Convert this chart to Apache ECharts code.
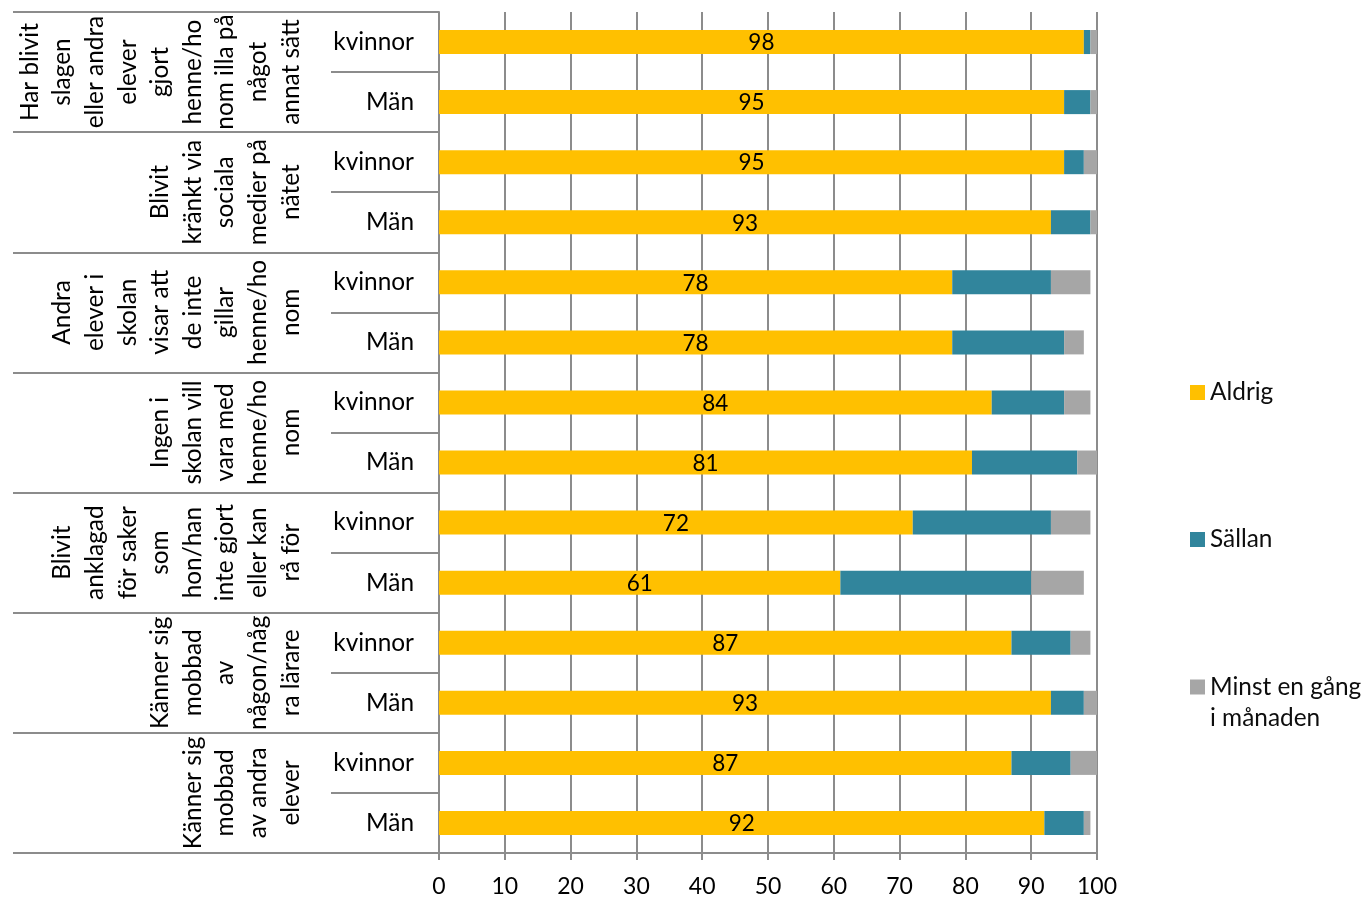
<!DOCTYPE html>
<html>
<head>
<meta charset="utf-8">
<script src="https://cdn.jsdelivr.net/npm/echarts@6/dist/echarts.min.js"></script>
<style>
html,body{margin:0;padding:0;background:#fff;}
#chart{width:1367px;height:897px;}
</style>
</head>
<body>
<div id="chart"></div>
<script>
const rowLabels = ['kvinnor','Män','kvinnor','Män','kvinnor','Män','kvinnor','Män','kvinnor','Män','kvinnor','Män','kvinnor','Män'];
const groupLabels = [
  'Har blivit\nslagen\neller andra\nelever\ngjort\nhenne/ho\nnom illa på\nnågot\nannat sätt',
  'Blivit\nkränkt via\nsociala\nmedier på\nnätet',
  'Andra\nelever i\nskolan\nvisar att\nde inte\ngillar\nhenne/ho\nnom',
  'Ingen i\nskolan vill\nvara med\nhenne/ho\nnom',
  'Blivit\nanklagad\nför saker\nsom\nhon/han\ninte gjort\neller kan\nrå för',
  'Känner sig\nmobbad\nav\nnågon/någ\nra lärare',
  'Känner sig\nmobbad\nav andra\nelever'
];
const seriesNames = ['Aldrig', 'Sällan', 'Minst en gång i månaden'];
const aldrig = [98,95,95,93,78,78,84,81,72,61,87,93,87,92];
const sallan = [1,4,3,6,15,17,11,16,21,29,9,5,9,6];
const minst  = [1,1,2,1,6,3,4,3,6,8,3,2,4,1];
const xTicks = [0,10,20,30,40,50,60,70,80,90,100];

const FONT = 'Lato';
const FS = 24.4;
const GRAY = '#8c8c8c';
const chart = echarts.init(document.getElementById('chart'), null, {renderer:'canvas'});
chart.setOption({
  animation: false,
  backgroundColor: '#fff',
  textStyle: {fontFamily: FONT, color: '#000'},
  grid: {left: 439, right: 270, top: 12, bottom: 44, containLabel: false, outerBoundsMode: 'none'},
  legend: [
    {
      orient: 'vertical', left: 1190, top: 377.5, padding: 0, itemGap: 117,
      itemWidth: 15, itemHeight: 15, icon: 'rect', selectedMode: false,
      textStyle: {fontFamily: FONT, fontSize: FS, color: '#0d0d0d', lineHeight: 30},
      data: [seriesNames[0], seriesNames[1]]
    },
    {
      orient: 'vertical', left: 1190, top: 640.5, padding: 0,
      itemWidth: 15, itemHeight: 15, icon: 'rect', selectedMode: false,
      formatter: function(n){ return n === seriesNames[2] ? '\nMinst en gång\ni månaden' : n; },
      textStyle: {fontFamily: FONT, fontSize: FS, color: '#0d0d0d', lineHeight: 31},
      data: [seriesNames[2]]
    }
  ],
  xAxis: {
    type: 'value', min: xTicks[0], max: xTicks[xTicks.length-1], interval: 10,
    axisLine: {show: true, lineStyle: {color: GRAY, width: 2}},
    axisTick: {show: true, length: 7, lineStyle: {color: GRAY, width: 2}},
    splitLine: {show: true, lineStyle: {color: GRAY, width: 2}},
    axisLabel: {fontFamily: FONT, fontSize: 23, color: '#000', margin: 22}
  },
  yAxis: [
    {
      type: 'category', data: rowLabels, inverse: true, position: 'left',
      axisLine: {show: true, lineStyle: {color: GRAY, width: 2}},
      axisTick: {show: true, length: 108, interval: 0, lineStyle: {color: GRAY, width: 2}},
      axisLabel: {interval: 0, fontFamily: FONT, fontSize: FS, color: '#000', margin: 25}
    },
    {
      type: 'category', data: groupLabels, inverse: true, position: 'left',
      axisLine: {show: false},
      axisTick: {show: true, length: 426, interval: 0, lineStyle: {color: GRAY, width: 2}},
      axisLabel: {interval: 0, rotate: 90, fontFamily: FONT, fontSize: FS, color: '#000', margin: 132, lineHeight: 32.6}
    }
  ],
  series: [
    {name: seriesNames[0], type: 'bar', stack: 't', yAxisIndex: 0, data: aldrig, barWidth: '40%',
     itemStyle: {color: '#FFC000'},
     label: {show: true, position: 'inside', fontFamily: FONT, fontSize: 22.5, color: '#000', offset: [0, 1]}},
    {name: seriesNames[1], type: 'bar', stack: 't', yAxisIndex: 0, data: sallan, barWidth: '40%',
     itemStyle: {color: '#31859C'}},
    {name: seriesNames[2], type: 'bar', stack: 't', yAxisIndex: 0, data: minst, barWidth: '40%',
     itemStyle: {color: '#A6A6A6'}}
  ]
});
</script>
</body>
</html>
